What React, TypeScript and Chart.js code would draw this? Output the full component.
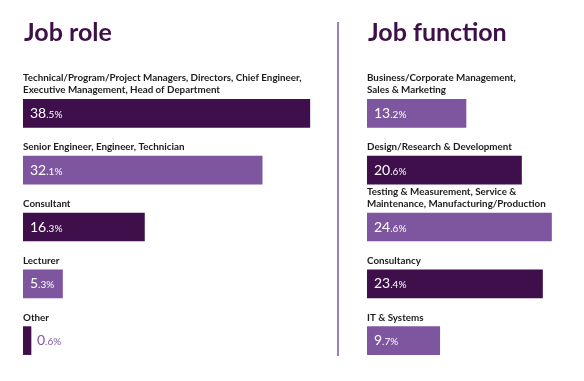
import React, { useEffect, useRef } from "react";
import { Chart, registerables } from "chart.js";

Chart.register(...registerables);

const roleTitle = "Job role";
const roleLabels: string[][] = [
  ["Technical/Program/Project Managers, Directors, Chief Engineer,", "Executive Management, Head of Department"],
  ["Senior Engineer, Engineer, Technician"],
  ["Consultant"],
  ["Lecturer"],
  ["Other"],
];
const roleValues = [38.5, 32.1, 16.3, 5.3, 0.6];

const functionTitle = "Job function";
const functionLabels: string[][] = [
  ["Business/Corporate Management,", "Sales & Marketing"],
  ["Design/Research & Development"],
  ["Testing & Measurement, Service &", "Maintenance, Manufacturing/Production"],
  ["Consultancy"],
  ["IT & Systems"],
];
const functionValues = [13.2, 20.6, 24.6, 23.4, 9.7];

const DARK = "#3e0f4b";
const LIGHT = "#7e569f";
const FONT = "Lato, 'Open Sans', sans-serif";

function makePlugin(title: string, labels: string[][], divider: boolean) {
  return {
    id: "panelText",
    afterDatasetsDraw(chart: any) {
      const ctx = chart.ctx as CanvasRenderingContext2D;
      const area = chart.chartArea;
      ctx.save();
      if (divider) {
        ctx.strokeStyle = LIGHT;
        ctx.lineWidth = 1.5;
        ctx.beginPath();
        ctx.moveTo(1, 22);
        ctx.lineTo(1, 356);
        ctx.stroke();
      }
      ctx.fillStyle = "#3d1048";
      ctx.font = `bold 25px ${FONT}`;
      ctx.textBaseline = "alphabetic";
      ctx.textAlign = "left";
      ctx.fillText(title, area.left + 1, 41);

      const meta = chart.getDatasetMeta(0);
      const data = chart.data.datasets[0].data as number[];
      meta.data.forEach((bar: any, i: number) => {
        const top = bar.y - bar.height / 2;
        const lines = labels[i];
        ctx.fillStyle = "#1c1c1c";
        ctx.font = `bold 9.8px ${FONT}`;
        for (let k = 0; k < lines.length; k++) {
          const y = top - 6 - (lines.length - 1 - k) * 12;
          ctx.fillText(lines[k], area.left, y);
        }
        const v = data[i];
        const s = v.toFixed(1);
        const dot = s.indexOf(".");
        const big = s.slice(0, dot);
        const small = s.slice(dot) + "%";
        const width = bar.x - bar.base;
        const inside = width > 30;
        const x0 = inside ? bar.base + 7 : bar.x + 6;
        const yb = bar.y + 4.5;
        ctx.fillStyle = inside ? "#ffffff" : LIGHT;
        ctx.font = `14px ${FONT}`;
        ctx.fillText(big, x0, yb);
        const w = ctx.measureText(big).width;
        ctx.font = `10px ${FONT}`;
        ctx.fillText(small, x0 + w, yb);
      });
      ctx.restore();
    },
  };
}

function Panel(props: {
  title: string;
  labels: string[][];
  values: number[];
  colors: string[];
  max: number;
  left: number;
  width: number;
  padLeft: number;
  padRight: number;
  divider: boolean;
  minBar: number;
}) {
  const ref = useRef<HTMLCanvasElement | null>(null);
  useEffect(() => {
    if (!ref.current) return;
    const chart = new Chart(ref.current, {
      type: "bar",
      data: {
        labels: props.labels.map((l) => l.join(" ")),
        datasets: [
          {
            data: props.values,
            backgroundColor: props.colors,
            borderWidth: 0,
            barThickness: 28,
            minBarLength: props.minBar,
          },
        ],
      },
      options: {
        indexAxis: "y",
        animation: false,
        responsive: false,
        maintainAspectRatio: false,
        layout: { padding: { top: 85, bottom: 12, left: props.padLeft, right: props.padRight } },
        scales: {
          x: { display: false, min: 0, max: props.max },
          y: { display: false },
        },
        plugins: {
          legend: { display: false },
          tooltip: { enabled: false },
          title: { display: false },
        },
      },
      plugins: [makePlugin(props.title, props.labels, props.divider)],
    } as any);
    return () => chart.destroy();
  }, []);
  return (
    <canvas
      ref={ref}
      width={props.width}
      height={381}
      style={{ position: "absolute", left: props.left, top: 0, width: props.width, height: 381 }}
    />
  );
}

export default function App() {
  return (
    <div style={{ position: "absolute", left: 0, top: 0, width: 584, height: 381, background: "#ffffff" }}>
      <Panel
        title={roleTitle}
        labels={roleLabels}
        values={roleValues}
        colors={[DARK, LIGHT, DARK, LIGHT, DARK]}
        max={40}
        left={0}
        width={337}
        padLeft={23}
        padRight={16}
        divider={false}
        minBar={8}
      />
      <Panel
        title={functionTitle}
        labels={functionLabels}
        values={functionValues}
        colors={[LIGHT, DARK, LIGHT, DARK, LIGHT]}
        max={28}
        left={337}
        width={247}
        padLeft={30}
        padRight={7}
        divider={true}
        minBar={0}
      />
    </div>
  );
}
